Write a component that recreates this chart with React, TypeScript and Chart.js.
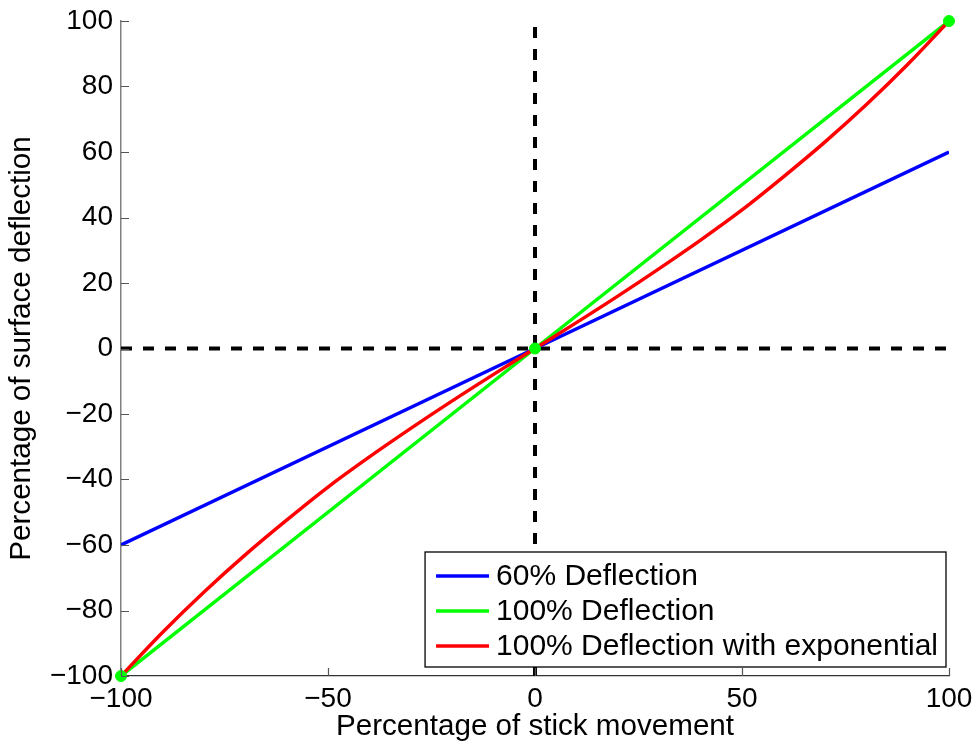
import React, { useEffect, useRef } from "react";
import { Chart, registerables } from "chart.js";

Chart.register(...registerables);

// ---- data ----
const stickX = [-100, -90, -80, -70, -60, -50, -40, -30, -20, -10, 0, 10, 20, 30, 40, 50, 60, 70, 80, 90, 100];
const expoDeflection = [-100, -86.7, -74.4, -63, -52.4, -42.3, -33.1, -24.4, -16, -7.9, 0, 7.9, 16, 24.4, 33.1, 42.3, 52.4, 63, 74.4, 86.7, 100];
const linearX = [-100, 0, 100];
const deflection60 = [-60, 0, 60];
const deflection100 = [-100, 0, 100];
const axisSpan = [-100, 100];
const seriesLabels = ["60% Deflection", "100% Deflection", "100% Deflection with exponential"];
const seriesColors = ["#0000ff", "#00ff00", "#ff0000"];
const xTickValues = [-100, -50, 0, 50, 100];
const yTickValues = [-100, -80, -60, -40, -20, 0, 20, 40, 60, 80, 100];
const xTitle = "Percentage of stick movement";
const yTitle = "Percentage of surface deflection";

const FONT = "'Liberation Sans', Arial, Helvetica, sans-serif";

const fmt = (v: number) => (v < 0 ? "\u2212" + Math.abs(v) : String(v));

const pts = (xs: number[], ys: number[]) => xs.map((x, i) => ({ x, y: ys[i] }));

const inwardTicks = {
  id: "inwardTicks",
  afterDatasetsDraw(chart: any) {
    const { ctx, chartArea, scales } = chart;
    ctx.save();
    ctx.lineWidth = 1.2;
    ctx.strokeStyle = "#555";
    ctx.beginPath();
    for (const v of yTickValues) {
      const y = Math.round(scales.y.getPixelForValue(v)) + 0.5;
      ctx.moveTo(chartArea.left, y);
      ctx.lineTo(chartArea.left + 8, y);
    }
    for (const v of xTickValues) {
      const x = Math.round(scales.x.getPixelForValue(v)) + 0.5;
      ctx.moveTo(x, chartArea.bottom);
      ctx.lineTo(x, chartArea.bottom - 8);
    }
    ctx.stroke();
    ctx.restore();
  },
};

const boxLegend = {
  id: "boxLegend",
  afterDatasetsDraw(chart: any) {
    const { ctx, chartArea } = chart;
    ctx.save();
    ctx.font = `30px ${FONT}`;
    const maxW = Math.max(...seriesLabels.map((l) => ctx.measureText(l).width));
    const w = 71 + maxW + 8;
    const h = 115;
    const right = chartArea.right - 3;
    const bottom = chartArea.bottom - 9;
    const left = right - w;
    const top = bottom - h;
    ctx.fillStyle = "#ffffff";
    ctx.fillRect(left, top, w, h);
    ctx.strokeStyle = "#000";
    ctx.lineWidth = 1.3;
    ctx.strokeRect(left, top, w, h);
    ctx.textBaseline = "middle";
    ctx.textAlign = "left";
    seriesLabels.forEach((label, i) => {
      const cy = top + 24 + i * 35;
      ctx.strokeStyle = seriesColors[i];
      ctx.lineWidth = 3.5;
      ctx.beginPath();
      ctx.moveTo(left + 11, cy);
      ctx.lineTo(left + 64, cy);
      ctx.stroke();
      ctx.fillStyle = "#000";
      ctx.fillText(label, left + 71, cy + 1);
    });
    ctx.restore();
  },
};

export default function App() {
  const ref = useRef<HTMLCanvasElement>(null);
  useEffect(() => {
    if (!ref.current) return;
    const chart = new Chart(ref.current, {
      type: "line",
      data: {
        datasets: [
          {
            label: "green markers",
            data: pts(linearX, deflection100),
            showLine: false,
            clip: false,
            pointRadius: 5.5,
            pointBackgroundColor: seriesColors[1],
            pointBorderColor: seriesColors[1],
            borderColor: seriesColors[1],
          },
          {
            label: seriesLabels[2],
            data: pts(stickX, expoDeflection),
            borderColor: seriesColors[2],
            borderWidth: 3.5,
            pointRadius: 0,
            cubicInterpolationMode: "monotone",
          },
          {
            label: seriesLabels[1],
            data: pts(linearX, deflection100),
            borderColor: seriesColors[1],
            borderWidth: 3.5,
            pointRadius: 0,
          },
          {
            label: seriesLabels[0],
            data: pts(linearX, deflection60),
            borderColor: seriesColors[0],
            borderWidth: 3.5,
            pointRadius: 0,
          },
          {
            label: "zero x",
            data: pts([0, 0], axisSpan),
            borderColor: "#000",
            borderWidth: 4,
            borderDash: [11, 11],
            pointRadius: 0,
          },
          {
            label: "zero y",
            data: pts(axisSpan, [0, 0]),
            borderColor: "#000",
            borderWidth: 4,
            borderDash: [11, 11],
            pointRadius: 0,
          },
        ],
      },
      options: {
        animation: false,
        responsive: true,
        maintainAspectRatio: false,
        layout: { padding: { top: 21, right: 30, left: 0, bottom: 0 } },
        plugins: { legend: { display: false }, tooltip: { enabled: false } },
        scales: {
          x: {
            type: "linear",
            min: -100,
            max: 100,
            afterBuildTicks: (s: any) => {
              s.ticks = xTickValues.map((value) => ({ value }));
            },
            afterFit: (s: any) => {
              s.height = 69;
              s.paddingLeft = 0;
              s.paddingRight = 0;
            },
            grid: { display: false, drawTicks: false },
            border: { display: true, color: "#333", width: 1.3 },
            ticks: {
              color: "#000",
              font: { family: FONT, size: 28 },
              padding: 6,
              maxRotation: 0,
              callback: (v: any) => fmt(Number(v)),
            },
            title: {
              display: true,
              text: xTitle,
              color: "#000",
              font: { family: FONT, size: 29.6 },
              padding: { top: 0, bottom: 0 },
            },
          },
          y: {
            type: "linear",
            min: -100,
            max: 100,
            afterBuildTicks: (s: any) => {
              s.ticks = yTickValues.map((value) => ({ value }));
            },
            afterFit: (s: any) => {
              s.width = 121;
              s.paddingTop = 0;
              s.paddingBottom = 0;
            },
            grid: { display: false, drawTicks: false },
            border: { display: true, color: "#808080", width: 1.5 },
            ticks: {
              color: "#000",
              font: { family: FONT, size: 28 },
              padding: 8,
              callback: (v: any) => fmt(Number(v)),
            },
            title: {
              display: true,
              text: yTitle,
              color: "#000",
              font: { family: FONT, size: 29.6 },
              padding: { top: 4, bottom: 0 },
            },
          },
        },
      },
      plugins: [inwardTicks, boxLegend],
    });
    return () => chart.destroy();
  }, []);
  return (
    <div style={{ position: "absolute", left: 0, top: 0, width: 979, height: 745, background: "#fff" }}>
      <canvas ref={ref} />
    </div>
  );
}
